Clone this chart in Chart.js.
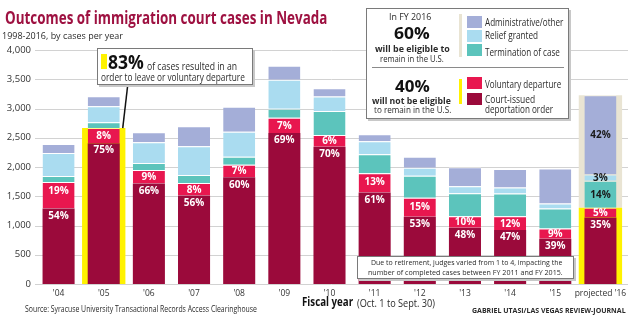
<!DOCTYPE html>
<html>
<head>
<meta charset="utf-8">
<script src="https://cdn.jsdelivr.net/npm/chart.js@4/dist/chart.umd.min.js"></script>
<style>
    html, body { margin: 0; padding: 0; background: #fff; }
    #wrap { position: relative; width: 640px; height: 322px; overflow: hidden; font-family: "Open Sans", sans-serif; color: #2b2b2b; }
    #chart { position: absolute; left: 0; top: 0; }
    .t { position: absolute; white-space: nowrap; line-height: 1; transform-origin: 0 0; }
    .b { font-weight: 700; }
    .box { position: absolute; background: #fff; border: 1px solid #7a7a7a; box-shadow: 2px 2px 0 #c8c8c8; box-sizing: border-box; }
    .sw { position: absolute; width: 15px; height: 12px; }
    .bar { position: absolute; width: 3px; }
</style>
</head>
<body>
<div id="wrap">
    <canvas id="chart" width="640" height="322"></canvas>

    <div class="t b" style="left:5px;top:8.9px;font-size:17px;color:#9e1141" data-w="322">Outcomes of immigration court cases in Nevada</div>
    <div class="t" style="left:2px;top:30.6px;font-size:9.5px" data-w="121">1998-2016, by cases per year</div>

    <!-- callout for FY 2005 -->
    <div class="box" style="left:97px;top:48px;width:156px;height:37px"></div>
    <div style="position:absolute;left:101px;top:54px;width:6px;height:15px;background:#fff200"></div>
    <div class="t b" style="left:108px;top:52.6px;font-size:19px;color:#111" data-w="36">83%</div>
    <div class="t" style="left:147px;top:61.1px;font-size:10px" data-w="90">of cases resulted in an</div>
    <div class="t" style="left:101px;top:72.1px;font-size:10px" data-w="144">order to leave or voluntary departure</div>

    <!-- legend -->
    <div class="box" style="left:366px;top:8px;width:203px;height:111px"></div>
    <div class="t" style="left:389px;top:11.6px;font-size:9.5px" data-w="42">In FY 2016</div>
    <div class="t b" style="left:394px;top:25.1px;font-size:16px;color:#111" data-w="36">60%</div>
    <div class="t b" style="left:375px;top:43.7px;font-size:9px" data-w="75">will be eligible to</div>
    <div class="t" style="left:380px;top:54.1px;font-size:9.5px" data-w="64">remain in the U.S.</div>
    <div style="position:absolute;left:372px;top:67px;width:192px;height:1px;background:#8a8a8a"></div>
    <div class="t b" style="left:395px;top:78.3px;font-size:16px;color:#111" data-w="35">40%</div>
    <div class="t b" style="left:372px;top:96px;font-size:9px" data-w="79">will not be eligible</div>
    <div class="t" style="left:374px;top:105.3px;font-size:9.5px" data-w="77">to remain in the U.S.</div>

    <div class="bar" style="left:459px;top:14px;height:43px;background:#e9e4d3"></div>
    <div class="bar" style="left:459px;top:79px;height:25px;background:#fff200"></div>
    <div class="sw" style="left:467px;top:16px;background:#a4aed8"></div>
    <div class="sw" style="left:467px;top:30px;background:#aadcf0"></div>
    <div class="sw" style="left:467px;top:44px;background:#5cc4bc"></div>
    <div class="sw" style="left:467px;top:77px;background:#e8174f"></div>
    <div class="sw" style="left:467px;top:93px;background:#9b0a3b"></div>
    <div class="t" style="left:485px;top:17.4px;font-size:10.5px" data-w="78">Administrative/other</div>
    <div class="t" style="left:485px;top:30px;font-size:10.5px" data-w="53">Relief granted</div>
    <div class="t" style="left:485px;top:46.7px;font-size:10.5px" data-w="75">Termination of case</div>
    <div class="t" style="left:485px;top:79px;font-size:10.5px" data-w="76">Voluntary departure</div>
    <div class="t" style="left:485px;top:94px;font-size:10.5px" data-w="50">Court-issued</div>
    <div class="t" style="left:485px;top:104px;font-size:10.5px" data-w="68">deportation order</div>

    <!-- judges note -->
    <div class="box" style="left:357px;top:256px;width:217px;height:23px"></div>
    <div class="t" style="left:371px;top:258.4px;font-size:8px" data-w="191">Due to retirement, judges varied from 1 to 4, impacting the</div>
    <div class="t" style="left:368px;top:267.9px;font-size:8px" data-w="195">number of completed cases between FY 2011 and FY 2015.</div>

    <div class="t b" style="left:302px;top:296.1px;font-size:12.6px;color:#111" data-w="51">Fiscal year</div>
    <div class="t" style="left:357px;top:297.8px;font-size:10.7px" data-w="78">(Oct. 1 to Sept. 30)</div>
    <div class="t" style="left:25px;top:305.2px;font-size:8.5px" data-w="232">Source: Syracuse University Transactional Records Access Clearinghouse</div>
    <div class="t b" style="left:472px;top:307px;font-size:7.5px" data-w="154">GABRIEL UTASI/LAS VEGAS REVIEW-JOURNAL</div>
</div>

<script>
// Cases per fiscal year, split by outcome (bottom of the stack first)
const years = ["'04", "'05", "'06", "'07", "'08", "'09", "'10", "'11", "'12", "'13", "'14", "'15", "projected '16"];
const deportation    = [1290, 2408, 1716, 1512, 1824, 2581, 2345, 1562, 1150,  960,  921,  772, 1136];
const voluntary      = [ 454,  257,  234,  216,  213,  262,  201,  333,  326,  200,  235,  178,  168];
const termination    = [ 102,  102,  120,  137,  137,  154,  410,  324,  375,  393,  393,  341,  461];
const relief         = [ 393,  273,  355,  490,  427,  495,  250,  222,  137,  120,  102,   85,  106];
const administrative = [ 154,  170,  171,  341,  427,  239,  140,  120,  188,  324,  315,  597, 1355];

const yTicks = [0, 500, 1000, 1500, 2000, 2500, 3000, 3500, 4000];

// years drawn on a yellow backing (order to leave); the last one is the projection
const highlighted = [1, 12];
const projected = 12;

const series = [deportation, voluntary, termination, relief, administrative];
const colors = ['#9b0a3b', '#e8174f', '#5cc4bc', '#aadcf0', '#a4aed8'];
const names = ['Court-issued deportation order', 'Voluntary departure', 'Termination of case', 'Relief granted', 'Administrative/other'];

const totals = years.map((y, i) => series.reduce((s, d) => s + d[i], 0));
const leaveTotals = years.map((y, i) => highlighted.indexOf(i) >= 0 ? deportation[i] + voluntary[i] : null);
const stayTotals = years.map((y, i) => i === projected ? totals[i] - deportation[i] - voluntary[i] : null);

// fit each text line to its width
document.querySelectorAll('.t[data-w]').forEach(function (el) {
    var w = parseFloat(el.dataset.w);
    el.style.transform = 'scaleX(' + (w / el.offsetWidth) + ')';
});

const gridLines = {
    id: 'gridLines',
    beforeDatasetsDraw(chart) {
        var ctx = chart.ctx, area = chart.chartArea, y = chart.scales.y;
        ctx.save();
        ctx.strokeStyle = '#d2d2d2';
        ctx.lineWidth = 1;
        y.ticks.forEach(function (t) {
            var py = Math.round(y.getPixelForValue(t.value)) + 0.5;
            ctx.beginPath();
            ctx.moveTo(area.left - 1, py);
            ctx.lineTo(area.right + 5, py);
            ctx.stroke();
        });
        ctx.restore();
    }
};

const segmentLabels = {
    id: 'segmentLabels',
    afterDatasetsDraw(chart) {
        var ctx = chart.ctx;
        ctx.save();
        ctx.textAlign = 'center';
        ctx.textBaseline = 'middle';
        ctx.font = 'bold 10px "Open Sans"';
        series.forEach(function (data, di) {
            var meta = chart.getDatasetMeta(di);
            data.forEach(function (v, i) {
                if (di > 1 && i !== projected) return;
                var bar = meta.data[i];
                var h = bar.base - bar.y;
                var py = bar.y + h / 2;
                if (di === 0) py = bar.y + 7;
                else if (di === 1) py = bar.y + Math.min(h / 2, 9);
                ctx.fillStyle = di < 2 ? '#fff' : '#1a1a1a';
                ctx.fillText(Math.round(v / totals[i] * 100) + '%', bar.x, py + 0.5);
            });
        });

        // pointer from the 83% callout to the '05 backing
        var hl = chart.getDatasetMeta(5).data[1];
        ctx.strokeStyle = '#111';
        ctx.lineWidth = 1.5;
        ctx.beginPath();
        ctx.moveTo(hl.x + 24, 85);
        ctx.lineTo(hl.x + 19, hl.y);
        ctx.stroke();
        ctx.restore();
    }
};

const datasets = series.map(function (data, di) {
    return {
        label: names[di],
        data: data,
        backgroundColor: colors[di],
        borderColor: 'rgba(255,255,255,0.55)',
        borderWidth: { top: di === 0 ? 0 : 1, left: 0, right: 0, bottom: 0 },
        borderSkipped: 'start',
        stack: 'cases',
        order: 1,
        categoryPercentage: 1,
        barPercentage: 0.71
    };
});
datasets.push({
    label: 'leave',
    data: leaveTotals,
    backgroundColor: '#fff200',
    stack: 'backing',
    grouped: false,
    order: 2,
    categoryPercentage: 1,
    barPercentage: 0.96
});
datasets.push({
    label: 'stay',
    data: stayTotals,
    backgroundColor: '#e9e4d3',
    stack: 'backing',
    grouped: false,
    order: 2,
    categoryPercentage: 1,
    barPercentage: 0.96
});

new Chart(document.getElementById('chart'), {
    type: 'bar',
    data: { labels: years, datasets: datasets },
    options: {
        responsive: false,
        animation: false,
        layout: { padding: { left: 0, right: 17, top: 50, bottom: 0 } },
        plugins: { legend: { display: false }, tooltip: { enabled: false } },
        scales: {
            x: {
                stacked: true,
                grid: { display: false, drawTicks: false },
                border: { display: false },
                ticks: { color: '#333', font: { family: 'Open Sans', size: 8.5 }, padding: 4, maxRotation: 0, autoSkip: false },
                afterFit: function (scale) { scale.height = 38; }
            },
            y: {
                stacked: true,
                min: 0,
                max: 4000,
                grid: { display: false, drawTicks: false },
                border: { display: false },
                afterBuildTicks: function (scale) { scale.ticks = yTicks.map(v => ({ value: v })); },
                ticks: {
                    color: '#333',
                    font: { family: 'Open Sans', size: 9.5 },
                    padding: 5,
                    callback: function (v) { return v.toLocaleString('en-US'); }
                },
                afterFit: function (scale) { scale.width = 36; }
            }
        }
    },
    plugins: [gridLines, segmentLabels]
});
</script>
</body>
</html>
